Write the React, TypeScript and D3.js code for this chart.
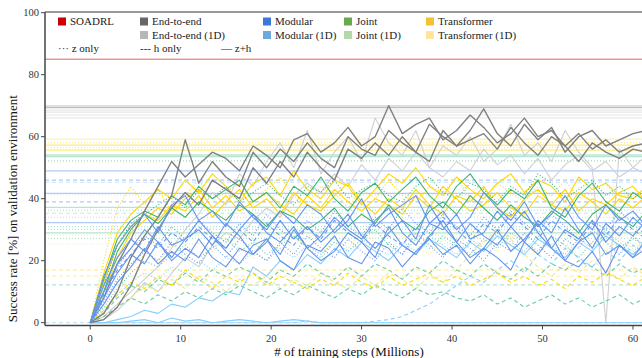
import React from "react";
import * as d3 from "d3";

// evaluation grid, millions of training steps
const steps = [0, 1.5, 3, 4.5, 6, 7.5, 9, 10.5, 12, 13.5, 15, 16.5, 18, 19.5,
  21, 22.5, 24, 25.5, 27, 28.5, 30, 31.5, 33, 34.5, 36, 37.5, 39, 40.5,
  42, 43.5, 45, 46.5, 48, 49.5, 51, 52.5, 54, 55.5, 57, 58.5, 60, 61.5];

const e2eA = [0, 8, 19, 27, 36, 44, 52, 47, 51, 55, 53, 49, 57, 54,
  50, 59, 61, 55, 58, 63, 57, 60, 70, 61, 64, 66, 59, 62,
  67, 63, 58, 61, 66, 60, 62, 57, 61, 56, 59, 55, 57, 58];
const e2eB = [0, 3, 10, 21, 28, 34, 41, 59, 45, 52, 47, 44, 55, 50,
  56, 52, 58, 53, 50, 60, 56, 54, 62, 58, 55, 64, 60, 57,
  62, 69, 61, 57, 64, 59, 63, 55, 60, 62, 57, 59, 61, 62];
const e2eC = [0, 1, 5, 12, 22, 30, 37, 42, 38, 46, 43, 40, 50, 45,
  52, 47, 55, 50, 46, 56, 53, 58, 54, 60, 55, 52, 62, 57,
  59, 61, 56, 63, 58, 54, 60, 57, 52, 58, 55, 53, 56, 55];
const e2e1dA = [0, 2, 6, 10, 14, 18, 24, 30, 35, 42, 38, 48, 44, 52,
  58, 50, 62, 48, 55, 60, 52, 66, 58, 54, 62, 50, 57, 54,
  60, 52, 56, 64, 54, 58, 52, 62, 55, 50, 0, 56, 50, 54];
const e2e1dB = [0, 1, 4, 8, 13, 10, 16, 21, 18, 25, 29, 27, 33, 37,
  34, 41, 45, 42, 48, 44, 51, 46, 53, 49, 55, 50, 47, 52,
  49, 56, 51, 54, 48, 53, 46, 51, 54, 49, 52, 47, 50, 48];

const modA = [0, 12, 21, 27, 23, 31, 25, 27, 33, 28, 24, 30, 35, 29,
  26, 31, 24, 28, 34, 30, 27, 33, 37, 29, 25, 32, 30, 35,
  27, 29, 36, 31, 26, 33, 29, 37, 30, 24, 32, 28, 34, 30];
const modB = [0, 8, 16, 22, 19, 26, 20, 24, 21, 28, 23, 19, 25, 27,
  22, 30, 24, 20, 23, 29, 26, 21, 31, 25, 22, 28, 33, 26,
  21, 24, 30, 23, 27, 32, 24, 20, 26, 29, 22, 25, 21, 27];
const modC = [0, 15, 25, 31, 35, 29, 38, 41, 33, 36, 31, 39, 34, 30,
  36, 32, 38, 35, 29, 33, 40, 31, 35, 38, 41, 32, 36, 30,
  34, 42, 37, 33, 39, 31, 35, 41, 34, 30, 38, 33, 36, 31];
const modD = [0, 6, 13, 18, 24, 19, 23, 20, 27, 21, 18, 24, 22, 27,
  20, 17, 25, 23, 28, 21, 19, 26, 24, 18, 23, 27, 22, 25,
  19, 24, 21, 17, 26, 22, 28, 20, 18, 23, 16, 25, 21, 24];
const modE = [0, 10, 19, 24, 30, 26, 21, 27, 30, 25, 32, 28, 22, 26,
  33, 27, 31, 26, 30, 35, 28, 24, 29, 33, 27, 38, 31, 26,
  32, 28, 25, 31, 36, 29, 24, 30, 27, 33, 26, 31, 28, 33];
const modDotA = [0, 10, 18, 24, 28, 25, 31, 27, 33, 29, 26, 32, 28, 35,
  30, 27, 33, 29, 36, 31, 28, 34, 30, 37, 32, 29, 35, 31,
  28, 34, 30, 36, 32, 29, 35, 31, 27, 33, 30, 36, 32, 28];
const modDotB = [0, 7, 14, 19, 23, 20, 26, 22, 19, 25, 21, 27, 23, 20,
  26, 22, 28, 24, 21, 27, 23, 20, 26, 22, 29, 25, 21, 27,
  24, 20, 26, 23, 29, 25, 21, 27, 24, 30, 26, 22, 28, 24];
const modDash = [0, 9, 17, 22, 27, 24, 29, 26, 31, 27, 24, 30, 26, 32,
  28, 25, 31, 27, 33, 29, 26, 32, 28, 25, 31, 27, 34, 30,
  26, 32, 29, 35, 31, 27, 33, 29, 26, 32, 28, 34, 30, 27];

const mod1dLow = [0, 0, 0, 0.5, 1, 0, 1.5, 0.5, 1, 0, 0.5, 1, 0.5, 0,
  0.5, 1, 0.5, 0, 0, 0, 0, 0, 0, 0, 0, 0, 0, 0,
  0, 0, 0, 0, 0, 0, 0, 0, 0, 0, 0, 0, 0, 0];
const mod1dRise = [0, 0, 1, 2, 4, 3, 6, 5, 8, 7, 10, 9, 18, 15,
  20, 17, 22, 19, 24, 21, 26, 23, 20, 25, 22, 27, 24, 21,
  26, 23, 28, 25, 22, 27, 24, 21, 26, 23, 28, 25, 22, 26];
const mod1dDash = [0, 0, 0, 0, 0, 0, 0, 0, 0, 0, 0, 0, 0, 0,
  0, 0, 0.5, 0, 0, 0, 0, 0.5, 1, 2, 4, 6, 9, 12,
  15, 13, 17, 20, 16, 22, 19, 24, 21, 18, 23, 20, 25, 22];
const mod1dDot = [0, 4, 9, 13, 16, 14, 18, 16, 20, 17, 21, 19, 23, 20,
  24, 21, 25, 22, 26, 23, 27, 24, 22, 26, 23, 28, 25, 22,
  27, 24, 29, 26, 23, 28, 25, 22, 27, 24, 29, 26, 23, 27];

const jointA = [0, 14, 27, 33, 36, 34, 41, 38, 44, 40, 43, 46, 39, 42,
  37, 44, 41, 47, 40, 36, 42, 45, 39, 43, 47, 41, 37, 44,
  48, 42, 38, 43, 40, 46, 37, 34, 41, 45, 39, 36, 42, 39];
const jointB = [0, 10, 23, 30, 35, 32, 37, 34, 39, 36, 33, 38, 35, 31,
  36, 34, 30, 33, 37, 31, 35, 32, 38, 33, 30, 36, 39, 35,
  41, 37, 33, 38, 34, 31, 36, 33, 29, 35, 38, 34, 31, 36];
const jointDot = [0, 12, 25, 32, 35, 38, 41, 37, 43, 40, 44, 39, 42, 45,
  41, 38, 44, 42, 46, 40, 43, 45, 41, 39, 44, 47, 42, 40,
  45, 43, 39, 44, 41, 48, 45, 40, 43, 46, 41, 44, 40, 43];
const joint1dDashLow = [0, 2, 5, 8, 6, 9, 7, 10, 8, 11, 9, 12, 10, 8,
  11, 9, 12, 10, 8, 11, 9, 12, 10, 8, 11, 9, 10, 8,
  7, 9, 6, 8, 5, 7, 9, 6, 8, 5, 7, 9, 6, 8];
const joint1dDash = [0, 3, 8, 12, 10, 14, 12, 16, 13, 17, 15, 18, 16, 13,
  17, 15, 19, 16, 14, 18, 15, 19, 17, 14, 18, 16, 20, 17,
  15, 19, 16, 14, 18, 15, 19, 17, 20, 18, 15, 19, 16, 18];
const joint1dDot = [0, 5, 11, 16, 20, 18, 22, 25, 21, 24, 27, 23, 26, 22,
  25, 28, 24, 21, 26, 23, 27, 30, 25, 22, 27, 24, 28, 25,
  22, 27, 24, 29, 26, 23, 28, 25, 21, 26, 30, 24, 27, 25];

const transA = [0, 16, 29, 35, 39, 43, 40, 46, 42, 48, 44, 39, 45, 47,
  41, 49, 43, 40, 46, 44, 38, 43, 48, 45, 50, 44, 41, 47,
  43, 40, 45, 48, 42, 46, 44, 39, 47, 43, 45, 41, 40, 44];
const transB = [0, 10, 21, 29, 33, 37, 35, 40, 43, 37, 41, 36, 39, 42,
  38, 35, 41, 37, 43, 39, 36, 40, 38, 35, 41, 37, 44, 40,
  36, 38, 42, 37, 35, 41, 38, 43, 36, 40, 38, 42, 44, 39];
const transC = [0, 13, 25, 31, 35, 33, 38, 36, 41, 34, 39, 43, 37, 40,
  35, 42, 38, 36, 41, 45, 39, 35, 40, 37, 43, 38, 35, 41,
  39, 44, 37, 34, 40, 43, 38, 36, 42, 39, 35, 40, 37, 41];
const transDot = [0, 20, 37, 44, 38, 43, 36, 41, 46, 40, 42, 45, 39, 43,
  47, 41, 38, 44, 42, 37, 43, 40, 46, 41, 39, 44, 42, 47,
  40, 38, 45, 42, 39, 44, 41, 46, 40, 43, 45, 39, 42, 40];
const transDash = [0, 4, 9, 13, 11, 15, 12, 17, 14, 11, 15, 13, 16, 12,
  15, 13, 11, 14, 12, 16, 13, 11, 15, 12, 14, 16, 13, 15,
  12, 14, 16, 13, 15, 12, 14, 11, 15, 13, 16, 14, 12, 15];
const trans1dDash = [0, 2, 5, 8, 12, 10, 14, 11, 15, 13, 10, 14, 12, 15,
  11, 14, 12, 16, 13, 11, 15, 12, 16, 14, 11, 15, 13, 17,
  22, 26, 30, 27, 22, 18, 15, 19, 16, 20, 17, 14, 18, 15];
const trans1dDot = [0, 6, 13, 18, 22, 20, 25, 22, 26, 23, 27, 24, 21, 26,
  23, 28, 25, 22, 27, 24, 29, 26, 23, 28, 25, 22, 27, 24,
  29, 26, 23, 28, 25, 22, 27, 24, 29, 26, 23, 27, 24, 26];

// best success rate reached by each run (horizontal reference lines)
const bestValues = [69.9, 69.4, 68.6, 67.9, 67, 66.1, 59.2, 58.1, 57.3, 56.5, 55.7,
  54.1, 53.6, 52.2, 49, 46, 45.3, 41.7, 41.2, 39, 37.2, 36.3, 35.3, 34, 32.3,
  31, 30.1, 29, 28.3, 27.2, 25.4, 17, 15, 12.2, 0];
const bestFamilies = ["e2e", "e2e", "e2e1d", "e2e1d", "e2e1d", "e2e1d", "trans1d", "trans", "trans", "trans", "trans",
  "joint", "joint1d", "joint", "mod", "mod", "mod1d", "mod", "mod1d", "mod", "joint1d", "joint1d", "mod1d", "mod1d", "mod",
  "joint1d", "joint1d", "joint1d", "trans1d", "joint1d", "trans1d", "trans", "trans1d", "joint1d", "mod1d"];
const bestModes = ["zh", "zh", "zh", "zh", "zh", "zh", "zh", "z", "zh", "z", "zh",
  "zh", "zh", "z", "zh", "h", "h", "zh", "z", "h", "zh", "z", "h", "z", "zh",
  "z", "z", "zh", "z", "z", "z", "h", "h", "h", "h"];

const soadrl = 85;

const legendRow1 = ["SOADRL", "End-to-end", "Modular", "Joint", "Transformer"];
const legendRow2 = ["", "End-to-end (1D)", "Modular (1D)", "Joint (1D)", "Transformer (1D)"];
const styleLabels = ["··· z only", "--- h only", "— z+h"];
const xTicks = [0, 10, 20, 30, 40, 50, 60];
const yTicks = [0, 20, 40, 60, 80, 100];

const lineColor: Record<string, string> = {
  e2e: "#808080", e2e1d: "#d0d0d0", mod: "#6495ed", mod1d: "#87cefa",
  joint: "#3cb371", joint1d: "#66cdaa", trans: "#ffd700", trans1d: "#f0e68c",
};
const swatch1 = ["#cc0000", "#666666", "#3c78d8", "#6aa84f", "#f1c232"];
const swatch2 = ["", "#b7b7b7", "#6fa8dc", "#b6d7a8", "#ffe599"];
const dashFor: Record<string, string | undefined> = { z: "1,2", h: "4,3", zh: undefined };

const runs = [
  { fam: "e2e1d", mode: "zh", v: e2e1dB },
  { fam: "e2e1d", mode: "zh", v: e2e1dA },
  { fam: "trans1d", mode: "h", v: trans1dDash },
  { fam: "trans1d", mode: "z", v: trans1dDot },
  { fam: "joint1d", mode: "h", v: joint1dDashLow },
  { fam: "joint1d", mode: "h", v: joint1dDash },
  { fam: "joint1d", mode: "z", v: joint1dDot },
  { fam: "mod1d", mode: "zh", v: mod1dLow },
  { fam: "mod1d", mode: "h", v: mod1dDash },
  { fam: "mod1d", mode: "z", v: mod1dDot },
  { fam: "mod1d", mode: "zh", v: mod1dRise },
  { fam: "trans", mode: "h", v: transDash },
  { fam: "trans", mode: "z", v: transDot },
  { fam: "trans", mode: "zh", v: transC },
  { fam: "trans", mode: "zh", v: transB },
  { fam: "trans", mode: "zh", v: transA },
  { fam: "joint", mode: "z", v: jointDot },
  { fam: "joint", mode: "zh", v: jointB },
  { fam: "joint", mode: "zh", v: jointA },
  { fam: "e2e", mode: "zh", v: e2eC },
  { fam: "e2e", mode: "zh", v: e2eB },
  { fam: "e2e", mode: "zh", v: e2eA },
  { fam: "mod", mode: "z", v: modDotA },
  { fam: "mod", mode: "z", v: modDotB },
  { fam: "mod", mode: "h", v: modDash },
  { fam: "mod", mode: "zh", v: modD },
  { fam: "mod", mode: "zh", v: modB },
  { fam: "mod", mode: "zh", v: modE },
  { fam: "mod", mode: "zh", v: modA },
  { fam: "mod", mode: "zh", v: modC },
];

const W = 642, H = 358;
const left = 45, right = 642, top = 12, axisY = 325.5;
const font = "'Liberation Serif', 'DejaVu Serif', serif";

export default function App() {
  const x = d3.scaleLinear().domain([-5, 61]).range([left, right]);
  const y = d3.scaleLinear().domain([0, 100]).range([322.7, 12.7]);
  const line = d3.line<number>().x((d, i) => x(steps[i])).y(d => y(d));

  const legendX = [58, 140, 263, 344, 426];

  return (
    <svg width={W} height={H} style={{ position: "fixed", left: 0, top: 0, background: "#fff", fontFamily: font }}>
      <defs>
        <clipPath id="plot">
          <rect x={left} y={top} width={right - left} height={axisY - top} />
        </clipPath>
      </defs>

      <g clipPath="url(#plot)">
        {bestValues.map((b, i) => (
          <line key={"b" + i} x1={left} x2={right} y1={y(b)} y2={y(b)}
            stroke={lineColor[bestFamilies[i]]} strokeOpacity={0.5} strokeWidth={1.2}
            strokeDasharray={dashFor[bestModes[i]]} />
        ))}
        <line x1={left} x2={right} y1={y(soadrl)} y2={y(soadrl)} stroke="#e06666" strokeOpacity={0.7} strokeWidth={1.4} />
        {runs.map((r, i) => (
          <path key={"r" + i} d={line(r.v) || ""} fill="none" stroke={lineColor[r.fam]}
            strokeWidth={r.fam === "e2e" ? 1.4 : 1.1} strokeDasharray={dashFor[r.mode]} strokeLinejoin="round" />
        ))}
      </g>

      {/* frame */}
      <line x1={left} x2={right} y1={top} y2={top} stroke="#333" strokeWidth={1.2} />
      <line x1={left} x2={left} y1={top} y2={axisY} stroke="#444" strokeWidth={1.5} />
      <line x1={left} x2={right} y1={axisY} y2={axisY} stroke="#444" strokeWidth={1.5} />

      {yTicks.map(t => (
        <g key={"yt" + t}>
          <line x1={left - 4} x2={left} y1={y(t)} y2={y(t)} stroke="#444" />
          <text x={left - 6} y={y(t)} dy="0.35em" textAnchor="end" fontSize={10.5} fill="#333">{t}</text>
        </g>
      ))}
      {xTicks.map(t => (
        <g key={"xt" + t}>
          <line x1={x(t)} x2={x(t)} y1={axisY} y2={axisY + 4} stroke="#444" />
          <text x={x(t)} y={342} textAnchor="middle" fontSize={10.5} fill="#333">{t}</text>
        </g>
      ))}

      <text x={349} y={355.5} textAnchor="middle" fontSize={13} fill="#111"># of training steps (Millions)</text>
      <text transform={`translate(17, ${(top + axisY) / 2 + 40}) rotate(-90)`} textAnchor="middle" fontSize={13} fill="#111">
        Success rate [%] on validation environment
      </text>

      {legendRow1.map((lab, i) => (
        <g key={"l1" + i}>
          <rect x={legendX[i]} y={17.5} width={8} height={8} fill={swatch1[i]} />
          <text x={legendX[i] + 12} y={21.5} dy="0.35em" fontSize={11} fill="#222">{lab}</text>
        </g>
      ))}
      {legendRow2.map((lab, i) => lab && (
        <g key={"l2" + i}>
          <rect x={legendX[i]} y={31} width={8} height={8} fill={swatch2[i]} />
          <text x={legendX[i] + 12} y={35} dy="0.35em" fontSize={11} fill="#222">{lab}</text>
        </g>
      ))}
      {styleLabels.map((lab, i) => (
        <text key={"s" + i} x={[58, 140, 221][i]} y={48.5} dy="0.35em" fontSize={11} fill="#222">{lab}</text>
      ))}
    </svg>
  );
}
